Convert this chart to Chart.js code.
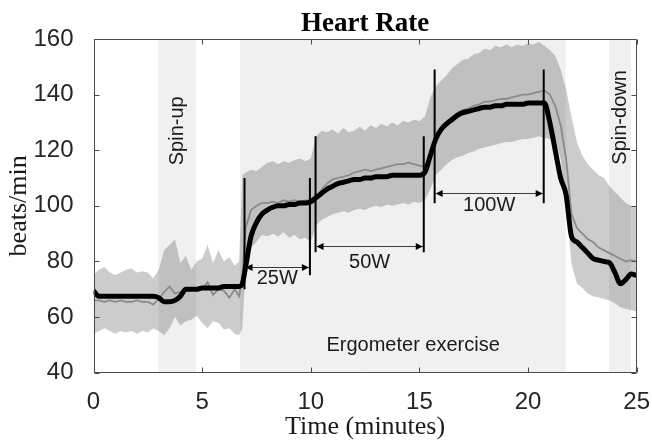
<!DOCTYPE html>
<html>
<head>
<meta charset="utf-8">
<title>Heart Rate</title>
<script src="https://cdn.jsdelivr.net/npm/chart.js@4.4.0/dist/chart.umd.min.js"></script>
<style>
    html, body { margin: 0; padding: 0; background: #fff; }
    #wrap { width: 652px; height: 447px; }
</style>
</head>
<body>
<div id="wrap"><canvas id="HeartRate"></canvas></div>
<script>
    // time in minutes
    var time = [0, 0.25, 0.5, 0.75, 1, 1.25, 1.5, 1.75, 2, 2.25, 2.5, 2.75, 3, 3.25, 3.5, 3.75,
        4, 4.25, 4.5, 4.75, 5, 5.25, 5.5, 5.75, 6, 6.25, 6.5, 6.7, 6.85,
        7, 7.25, 7.5, 7.75, 8, 8.25, 8.5, 8.75, 9, 9.25, 9.5, 9.75,
        10, 10.25, 10.5, 10.75, 11, 11.25, 11.5, 11.75, 12, 12.25, 12.5, 12.75,
        13, 13.25, 13.5, 13.75, 14, 14.25, 14.5, 14.75, 15, 15.25, 15.5, 15.75,
        16, 16.25, 16.5, 16.75, 17, 17.25, 17.5, 17.75, 18, 18.25, 18.5, 18.75,
        19, 19.25, 19.5, 19.75, 20, 20.25, 20.5, 20.75, 21, 21.25, 21.5, 21.75,
        22, 22.25, 22.5, 22.75, 23, 23.25, 23.5, 23.75, 24, 24.25, 24.5, 24.75, 25];

    // mean (thick black)
    var meanHR = [69.5, 67.5, 67.5, 67.5, 67.5, 67.5, 67.5, 67.5, 67.5, 67.5, 67.5, 67.5, 67, 65.5, 65.5, 66,
        67.5, 70, 70, 70, 70.5, 70.5, 70.5, 70.5, 71, 71, 71, 71, 72,
        78, 89, 94, 97, 98.5, 99.5, 100, 100, 100.5, 100.5, 101, 101,
        101.5, 103, 104.5, 106, 107, 108, 108.5, 109, 109.5, 109.5, 110, 110,
        110.5, 110.5, 110.5, 111, 111, 111, 111, 111, 111, 112, 118, 124,
        127.5, 129.5, 131, 132.5, 133.5, 134, 134.5, 135, 135.5, 135.5, 136, 136,
        136.5, 136.5, 136.5, 136.5, 137, 137, 137, 137, 130, 120, 110, 104,
        89, 87, 85, 83, 81, 80.5, 80, 79.5, 76, 72, 73.5, 75.5, 75];

    // median (thin gray)
    var medianHR = [66, 66, 65.5, 66, 65.5, 66, 65.5, 65.5, 66, 65.5, 65.5, 64.5, 66.5, 69, 71, 68.5,
        69, 70, 70.5, 69.5, 70, 72.5, 68, 70, 69.5, 67, 70, 67.5, 75,
        92, 98.5, 100, 101, 101, 101.5, 101, 102, 101.5, 102, 101.5, 102,
        102, 102.5, 106, 108, 109.5, 110, 110.5, 111, 112, 112.5, 113, 112.5,
        113, 113.5, 114, 114.5, 115, 115, 115.5, 115, 114.5, 114, 119, 125,
        128, 130.5, 132, 133.5, 134.5, 135, 136, 136.5, 137.5, 137.5, 138, 138.5,
        138.5, 139, 139.5, 140, 140, 140.5, 141, 141.5, 140, 136, 129, 117,
        97, 92, 90, 88, 87, 85, 84, 83, 82, 81, 80, 80.5, 80];

    // spread band
    var upperHR = [75, 77, 78, 76, 75, 76, 77, 77.5, 76, 76.5, 76, 74, 77, 84, 86, 88,
        79.5, 82, 77, 80, 81, 86, 79.5, 84, 80, 81.5, 78.5, 80, 111,
        112, 113, 112.5, 114, 115.5, 116, 115, 116, 115.5, 116.5, 117, 116,
        117, 125, 127, 126.5, 127.5, 126, 128, 126.5, 127, 128.5, 127, 129,
        128, 129.5, 128.5, 130, 129, 130.5, 130, 131, 130.5, 132, 139, 143,
        145, 147, 149.5, 151, 152.5, 153, 154.5, 155, 156.5, 156, 157.5, 157,
        158, 157, 158, 157.5, 158.5, 158, 159, 157.5, 156, 154, 149, 142,
        132, 123, 118, 115, 113, 111, 110, 107, 105, 103, 101, 100, 99.5];

    var lowerHR = [54, 55, 56, 55, 54, 55, 54.5, 55, 54, 55, 54.5, 56, 55, 53.5, 56, 60,
        57, 58.5, 59, 60.5, 58, 56, 58.5, 58, 55.5, 56, 54, 53.5, 56,
        78, 85, 87, 89.5, 89, 90, 89, 90.5, 88.5, 89.5, 88, 88.5,
        87, 93, 95, 96, 97, 97.5, 98, 97.5, 98.5, 99, 98.5, 99.5,
        100, 99.5, 100.5, 100, 100.5, 101, 100.5, 101.5, 101, 102, 106, 111,
        113, 115, 116.5, 117.5, 118, 119, 119.5, 120.5, 121, 121.5, 122, 122.5,
        123, 123, 123.5, 124, 124, 124.5, 125, 124.5, 124, 123.5, 117, 100,
        79, 72, 70.5, 68.5, 67.5, 67, 66.5, 66, 65, 63.5, 63, 62.5, 62];

    // protocol phases (minutes)
    var phaseNames = ['Spin-up', 'Ergometer exercise', 'Spin-down'];
    var phaseStart = [2.99, 6.75, 23.72];
    var phaseEnd = [4.71, 21.73, 24.74];

    // ergometer load steps (minutes)
    var loadNames = ['25W', '50W', '100W'];
    var loadStart = [6.95, 10.22, 15.7];
    var loadEnd = [9.96, 15.2, 20.72];

    var xTicks = [0, 5, 10, 15, 20, 25];
    var yTicks = [40, 60, 80, 100, 120, 140, 160];

    // where the marker lines, arrows and texts sit, in axis units
    var markerLayout = {
        lineTop: [110, 125, 149],
        startBottom: [70, 83.3, 100.9],
        endBottom: [75, 83.3, 100.9],
        arrowY: [78.1, 85.7, 104.7],
        textY: [73.8, 79.6, 100]
    };
    var phaseTextPos = [[3.86, 127], [14.71, 49.9], [24.25, 131.8]];

    function points(values)
    {
        var out = [];
        for (var i in time) {
            out.push({x: time[i], y: values[i]});
        }
        return out;
    }

    var overlay = {
        id: 'overlay',
        beforeDatasetsDraw: function (chart)
        {
            var ctx = chart.ctx, a = chart.chartArea, xs = chart.scales.x;
            ctx.save();
            ctx.fillStyle = '#f0f0f0';
            for (var i = 0; i < phaseStart.length; i++) {
                var x0 = xs.getPixelForValue(phaseStart[i]);
                var x1 = xs.getPixelForValue(phaseEnd[i]);
                ctx.fillRect(x0, a.top, x1 - x0, a.bottom - a.top);
            }
            ctx.restore();
        },
        afterDatasetsDraw: function (chart)
        {
            var ctx = chart.ctx, xs = chart.scales.x, ys = chart.scales.y;
            ctx.save();
            for (var i = 0; i < loadNames.length; i++) {
                var x0 = xs.getPixelForValue(loadStart[i]);
                var x1 = xs.getPixelForValue(loadEnd[i]);
                var top = ys.getPixelForValue(markerLayout.lineTop[i]);
                var ay = Math.round(ys.getPixelForValue(markerLayout.arrowY[i])) + 0.5;

                ctx.strokeStyle = '#000';
                ctx.lineWidth = 2;
                ctx.beginPath();
                ctx.moveTo(x0, top);
                ctx.lineTo(x0, ys.getPixelForValue(markerLayout.startBottom[i]));
                ctx.moveTo(x1, top);
                ctx.lineTo(x1, ys.getPixelForValue(markerLayout.endBottom[i]));
                ctx.stroke();

                ctx.strokeStyle = '#3a3a3a';
                ctx.lineWidth = 1;
                ctx.beginPath();
                ctx.moveTo(x0 + 1, ay);
                ctx.lineTo(x1 - 1, ay);
                ctx.stroke();

                ctx.fillStyle = '#000';
                ctx.beginPath();
                ctx.moveTo(x0 + 1, ay);
                ctx.lineTo(x0 + 8, ay - 3.5);
                ctx.lineTo(x0 + 8, ay + 3.5);
                ctx.closePath();
                ctx.moveTo(x1 - 1, ay);
                ctx.lineTo(x1 - 8, ay - 3.5);
                ctx.lineTo(x1 - 8, ay + 3.5);
                ctx.closePath();
                ctx.fill();

                ctx.fillStyle = '#1a1a1a';
                ctx.font = '20px "Liberation Sans", Arial, sans-serif';
                ctx.textAlign = 'center';
                ctx.textBaseline = 'middle';
                ctx.fillText(loadNames[i], (x0 + x1) / 2, ys.getPixelForValue(markerLayout.textY[i]));
            }

            ctx.fillStyle = '#1a1a1a';
            ctx.font = '20px "Liberation Sans", Arial, sans-serif';
            ctx.textAlign = 'center';
            ctx.textBaseline = 'middle';
            for (var j = 0; j < phaseNames.length; j++) {
                var px = xs.getPixelForValue(phaseTextPos[j][0]);
                var py = ys.getPixelForValue(phaseTextPos[j][1]);
                ctx.save();
                ctx.translate(px, py);
                if (j !== 1) {
                    ctx.rotate(-Math.PI / 2);
                }
                ctx.fillText(phaseNames[j], 0, 0);
                ctx.restore();
            }
            ctx.restore();
        },
        afterDraw: function (chart)
        {
            var ctx = chart.ctx, a = chart.chartArea, xs = chart.scales.x, ys = chart.scales.y;
            var l = Math.round(a.left) + 0.5, r = Math.round(a.right) - 0.5;
            var t = Math.round(a.top) + 0.5, b = Math.round(a.bottom) - 0.5;
            ctx.save();
            ctx.strokeStyle = '#4a4a4a';
            ctx.lineWidth = 1;
            ctx.beginPath();
            ctx.rect(l, t, r - l, b - t);
            for (var i in xTicks) {
                var x = Math.round(xs.getPixelForValue(xTicks[i])) + 0.5;
                ctx.moveTo(x, b);
                ctx.lineTo(x, b - 5);
                ctx.moveTo(x, t);
                ctx.lineTo(x, t + 5);
            }
            for (var k in yTicks) {
                var y = Math.round(ys.getPixelForValue(yTicks[k])) + 0.5;
                ctx.moveTo(l, y);
                ctx.lineTo(l + 5, y);
                ctx.moveTo(r, y);
                ctx.lineTo(r - 5, y);
            }
            ctx.stroke();

            // title centred over the axes box
            ctx.fillStyle = '#000';
            ctx.font = 'bold 27px "Liberation Serif", "Times New Roman", serif';
            ctx.textAlign = 'center';
            ctx.textBaseline = 'alphabetic';
            ctx.fillText('Heart Rate', (a.left + a.right) / 2, 31);
            ctx.restore();
        }
    };

    var chartdata = {
        datasets: [
            {
                label: 'Mean',
                data: points(meanHR),
                borderColor: '#000',
                borderWidth: 5,
                pointRadius: 0,
                cubicInterpolationMode: 'monotone',
                fill: false,
                order: 0
            },
            {
                label: 'Median',
                data: points(medianHR),
                borderColor: '#8a8a8a',
                borderWidth: 1.8,
                pointRadius: 0,
                fill: false,
                order: 1
            },
            {
                label: 'Upper',
                data: points(upperHR),
                borderColor: 'rgba(0,0,0,0)',
                borderWidth: 1,
                pointRadius: 0,
                backgroundColor: 'rgba(0,0,0,0.2)',
                fill: '+1',
                order: 2
            },
            {
                label: 'Lower',
                data: points(lowerHR),
                borderColor: 'rgba(0,0,0,0)',
                borderWidth: 1,
                pointRadius: 0,
                fill: false,
                order: 3
            }
        ]
    };

    var graphTarget = document.getElementById('HeartRate');

    var lineGraph = new Chart(graphTarget, {
        type: 'line',
        data: chartdata,
        plugins: [overlay],
        options: {
            responsive: true,
            maintainAspectRatio: false,
            animation: false,
            layout: { padding: { top: 39, right: 15.3, bottom: 0, left: 0 } },
            plugins: {
                legend: { display: false },
                tooltip: { enabled: false },
                title: { display: false }
            },
            scales: {
                x: {
                    type: 'linear',
                    min: 0,
                    max: 25,
                    grid: { display: false },
                    border: { display: false },
                    afterFit: function (scale) {
                        scale.height = 74.3;
                        scale.paddingLeft = 0;
                        scale.paddingRight = 0;
                    },
                    ticks: {
                        stepSize: 5,
                        padding: 7,
                        maxRotation: 0,
                        color: '#262626',
                        font: { family: '"Liberation Sans", Arial, sans-serif', size: 24 }
                    },
                    title: {
                        display: true,
                        text: 'Time (minutes)',
                        color: '#1a1a1a',
                        padding: { top: 0, bottom: 4 },
                        font: { family: '"Liberation Serif", "Times New Roman", serif', size: 26 }
                    }
                },
                y: {
                    min: 40,
                    max: 160,
                    grid: { display: false },
                    border: { display: false },
                    afterFit: function (scale) { scale.width = 93.5; },
                    ticks: {
                        stepSize: 20,
                        padding: 12,
                        color: '#262626',
                        font: { family: '"Liberation Sans", Arial, sans-serif', size: 24 }
                    },
                    title: {
                        display: true,
                        text: 'beats/min',
                        color: '#1a1a1a',
                        padding: { top: 4, bottom: 0 },
                        font: { family: '"Liberation Serif", "Times New Roman", serif', size: 26 }
                    }
                }
            }
        }
    });
</script>
</body>
</html>
